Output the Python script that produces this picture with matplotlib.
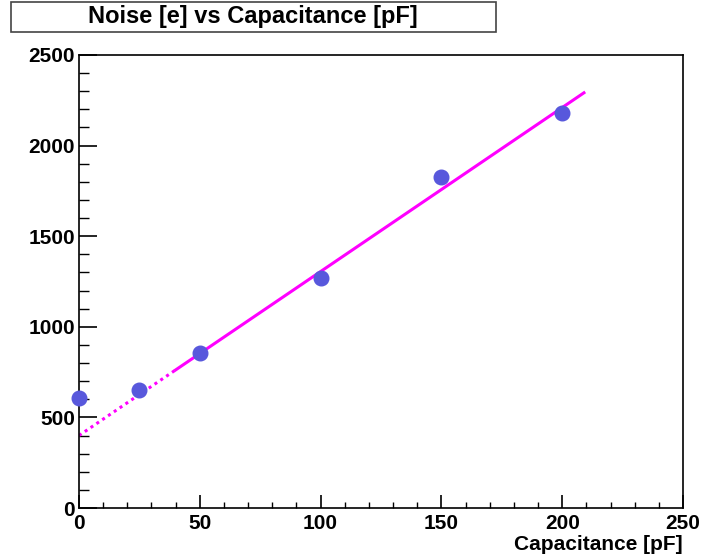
import numpy as np
import matplotlib
matplotlib.use("Agg")
import matplotlib.pyplot as plt
from matplotlib.patches import Rectangle
from matplotlib.ticker import MultipleLocator

capacitance = [0, 25, 50, 100, 150, 200]
noise = [605, 650, 855, 1268, 1825, 2180]
fit_intercept = 400.0
fit_slope = 9.05
fit_dotted_range = (0, 40)
fit_solid_range = (40, 209)
title = "Noise [e] vs Capacitance [pF]"
xlabel = "Capacitance [pF]"

plt.rcParams['font.family'] = ['Liberation Sans', 'DejaVu Sans']
W, H = 702, 559
fig = plt.figure(figsize=(W/100, H/100), dpi=100)
ax = fig.add_axes([79/W, 1-508/H, (683-79)/W, (508-55)/H])

xd = np.linspace(*fit_dotted_range, 50)
xs = np.linspace(*fit_solid_range, 50)
ax.plot(xd, fit_intercept + fit_slope*xd, color='#ff00ff', lw=2.2, ls=(0, (1, 1.3)), zorder=2)
ax.plot(xs, fit_intercept + fit_slope*xs, color='#ff00ff', lw=2.2, zorder=2)
ax.plot(capacitance, noise, 'o', color='#5858dc', ms=10.5, zorder=3, clip_on=False)

ax.set_xlim(0, 250)
ax.set_ylim(0, 2500)
ax.xaxis.set_major_locator(MultipleLocator(50))
ax.xaxis.set_minor_locator(MultipleLocator(10))
ax.yaxis.set_major_locator(MultipleLocator(500))
ax.yaxis.set_minor_locator(MultipleLocator(100))
ax.tick_params(axis='both', which='both', direction='in', top=False, right=False)
ax.tick_params(axis='x', which='major', length=9.5, width=1.2, labelsize=15, pad=4)
ax.tick_params(axis='x', which='minor', length=4.5, width=1.0)
ax.tick_params(axis='y', which='major', length=13, width=1.2, labelsize=15, pad=3)
ax.tick_params(axis='y', which='minor', length=7, width=1.0)
for lab in ax.get_xticklabels() + ax.get_yticklabels():
    lab.set_fontweight('bold')
for s in ax.spines.values():
    s.set_linewidth(1.2)

fig.text(683/W, 1-545/H, xlabel, ha='right', va='center', fontsize=15, fontweight='bold')

fig.patches.append(Rectangle((11/W, 1-32/H), (496-11)/W, 30/H, transform=fig.transFigure,
                             fill=False, edgecolor='#444444', lw=1.2))
fig.text(253/W, 1-17/H, title, ha='center', va='center', fontsize=17, fontweight='bold')

fig.savefig("out.png", dpi=100)
